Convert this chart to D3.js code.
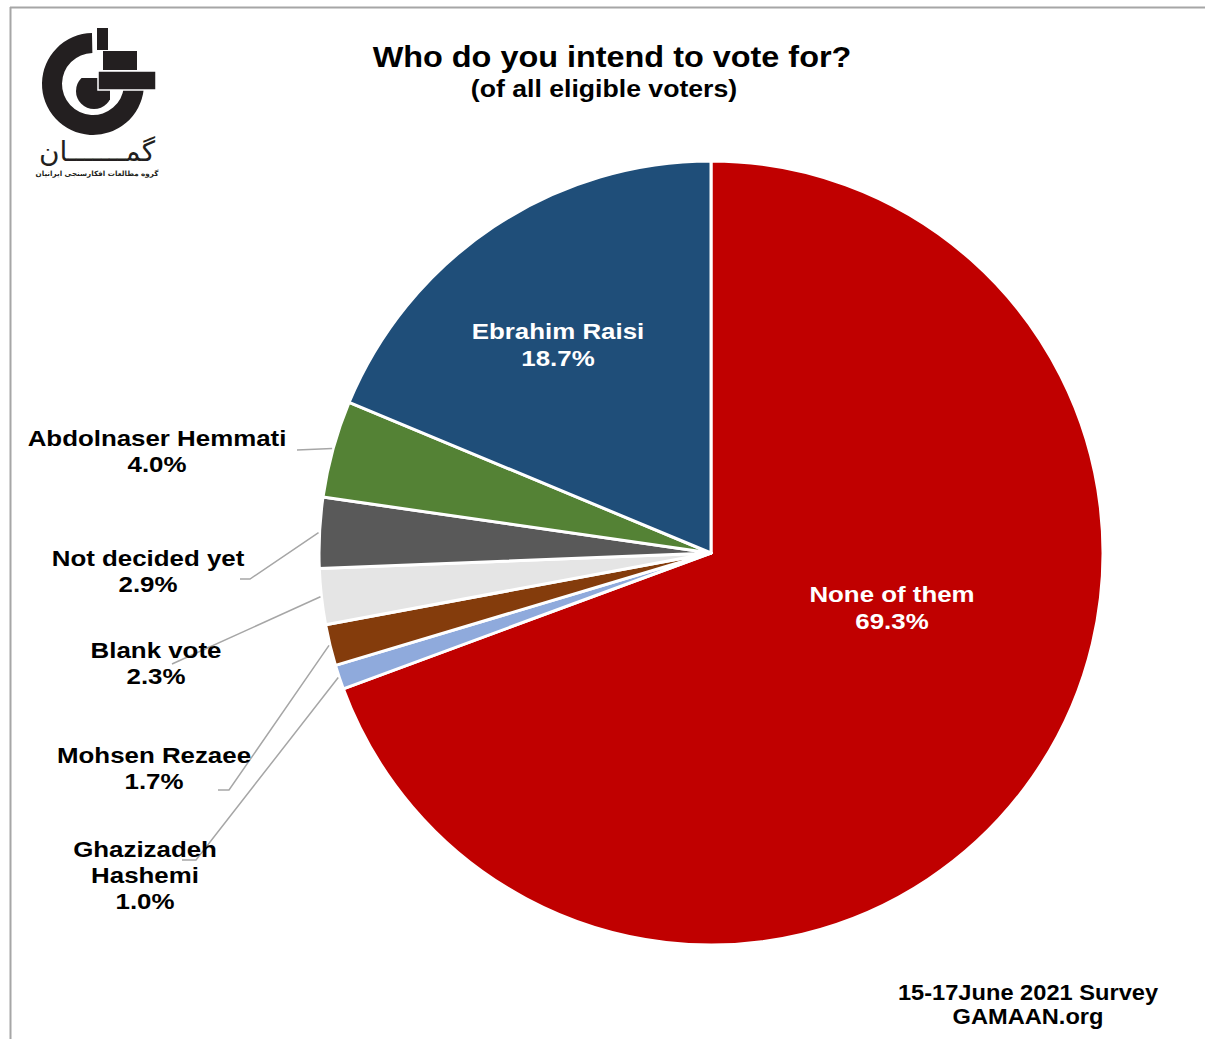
<!DOCTYPE html>
<html>
<head>
<meta charset="utf-8">
<script src="https://cdn.jsdelivr.net/npm/d3@7"></script>
<style>
  html, body { margin: 0; padding: 0; background: #fff; }
  svg { display: block; }
  text { font-family: "Liberation Sans", Arial, Helvetica, sans-serif; font-weight: bold; }
</style>
</head>
<body>
<svg id="chart" width="1205" height="1039"></svg>
<script>
// Survey answers, clockwise from 12 o'clock
const categories = ["None of them", "Ghazizadeh Hashemi", "Mohsen Rezaee", "Blank vote",
                    "Not decided yet", "Abdolnaser Hemmati", "Ebrahim Raisi"];
const labelLines = [["None of them"], ["Ghazizadeh", "Hashemi"], ["Mohsen Rezaee"], ["Blank vote"],
                    ["Not decided yet"], ["Abdolnaser Hemmati"], ["Ebrahim Raisi"]];
const values = [69.3, 1.0, 1.7, 2.3, 2.9, 4.0, 18.7];
const sliceColors = ["#C00000", "#8FAADC", "#843C0C", "#E5E5E5", "#595959", "#548235", "#1F4E79"];

const titleText = "Who do you intend to vote for?";
const subtitleText = "(of all eligible voters)";
const footerLines = ["15-17June 2021 Survey", "GAMAAN.org"];

// Layout
const W = 1205, H = 1039;
const cx = 711, cy = 553, R = 392;
const lineH = 26;

// Label placement: inside labels by slice, outside labels with leader elbows
const insideLabels = {
  "None of them": [892, 602],
  "Ebrahim Raisi": [558, 339]
};
const outsideLabels = {
  "Abdolnaser Hemmati": { text: [157, 446], elbow: null, end: [297, 450] },
  "Not decided yet":    { text: [148, 566], elbow: [250, 579], end: [240, 579] },
  "Blank vote":         { text: [156, 658], elbow: null, end: [172, 664] },
  "Mohsen Rezaee":      { text: [154, 763], elbow: [229, 790], end: [218, 790] },
  "Ghazizadeh Hashemi": { text: [145, 857], elbow: [196, 860], end: [182, 860] }
};

const svg = d3.select("#chart");

// Centered, horizontally widened multi-line text block
function textBlock(parent, x, y, lines, size, stretch, gap, fill) {
  const t = parent.append("text")
    .attr("transform", `translate(${x},${y}) scale(${stretch},1)`)
    .attr("text-anchor", "middle").attr("font-size", size).attr("fill", fill);
  lines.forEach((ln, i) => t.append("tspan").attr("x", 0).attr("y", i * gap).text(ln));
  return t;
}

// Frame lines along the top and left
svg.append("line").attr("x1", 10).attr("y1", 7.5).attr("x2", W).attr("y2", 7.5)
  .attr("stroke", "#A6A6A6").attr("stroke-width", 2);
svg.append("line").attr("x1", 10.5).attr("y1", 7).attr("x2", 10.5).attr("y2", H)
  .attr("stroke", "#A6A6A6").attr("stroke-width", 2);

// Logo
const ink = "#231F20";
const logo = svg.append("g").attr("class", "logo");
const lcx = 93, lcy = 84;
const ringArc = d3.arc().innerRadius(31).outerRadius(51)
  .startAngle(Math.PI / 2 + 0.1).endAngle(2 * Math.PI - 0.02);
logo.append("path").attr("transform", `translate(${lcx},${lcy})`).attr("d", ringArc()).attr("fill", ink);
// inner disc with a flat top
logo.append("clipPath").attr("id", "discClip")
  .append("rect").attr("x", 60).attr("y", 78).attr("width", 50).attr("height", 50);
logo.append("circle").attr("cx", 94).attr("cy", 91).attr("r", 18)
  .attr("fill", ink).attr("clip-path", "url(#discClip)");
// stacked blocks
logo.append("rect").attr("x", 98).attr("y", 71).attr("width", 58).attr("height", 19)
  .attr("fill", ink).attr("stroke", "#fff").attr("stroke-width", 1.5);
logo.append("rect").attr("x", 103).attr("y", 51).attr("width", 34).attr("height", 19).attr("fill", ink);
logo.append("rect").attr("x", 97).attr("y", 28).attr("width", 11).attr("height", 22).attr("fill", ink);
logo.append("text").attr("x", 97).attr("y", 161).attr("text-anchor", "middle")
  .attr("direction", "rtl")
  .style("font-family", "'DejaVu Sans', sans-serif").style("font-weight", "normal")
  .attr("font-size", 28).attr("fill", ink).text("گمـــــــان");
logo.append("text").attr("x", 97).attr("y", 176).attr("text-anchor", "middle")
  .attr("direction", "rtl")
  .style("font-family", "'DejaVu Sans', sans-serif").style("font-weight", "bold")
  .attr("font-size", 7.2).attr("fill", ink).text("گروه مطالعات افکارسنجی ایرانیان");

// Titles
textBlock(svg, 612, 67, [titleText], 30, 1.08, 0, "#000");
textBlock(svg, 604, 97, [subtitleText], 24, 1.11, 0, "#000");

// Pie
const pie = d3.pie().sort(null).value(d => d.value).startAngle(0).endAngle(2 * Math.PI);
const data = categories.map((c, i) => ({ name: c, value: values[i], color: sliceColors[i], lines: labelLines[i] }));
const arcs = pie(data);
const arc = d3.arc().innerRadius(0).outerRadius(R);
const edgeArc = d3.arc().innerRadius(R + 1).outerRadius(R + 1);

const g = svg.append("g").attr("transform", `translate(${cx},${cy})`);

// Leader lines (drawn beneath the labels)
const leaderG = svg.append("g");
arcs.forEach(a => {
  const o = outsideLabels[a.data.name];
  if (!o) return;
  const [sx, sy] = edgeArc.centroid(a);
  const pts = [[cx + sx, cy + sy]];
  if (o.elbow) pts.push(o.elbow);
  pts.push(o.end);
  leaderG.append("path").attr("d", d3.line()(pts))
    .attr("fill", "none").attr("stroke", "#A6A6A6").attr("stroke-width", 1.5);
});

g.selectAll("path.slice").data(arcs).join("path")
  .attr("class", "slice")
  .attr("d", arc)
  .attr("fill", d => d.data.color)
  .attr("stroke", "#fff").attr("stroke-width", 3).attr("stroke-linejoin", "round");

const pct = v => d3.format(".1f")(v) + "%";

// Inside labels
arcs.forEach(a => {
  const p = insideLabels[a.data.name];
  if (!p) return;
  textBlock(svg, p[0], p[1], a.data.lines.concat([pct(a.data.value)]), 22.5, 1.15, lineH + 1, "#fff");
});

// Outside labels
arcs.forEach(a => {
  const o = outsideLabels[a.data.name];
  if (!o) return;
  textBlock(svg, o.text[0], o.text[1], a.data.lines.concat([pct(a.data.value)]), 22.5, 1.15, lineH, "#000");
});

// Footer
textBlock(svg, 1028, 1000, footerLines, 22, 1.075, 24, "#000");
</script>
</body>
</html>
